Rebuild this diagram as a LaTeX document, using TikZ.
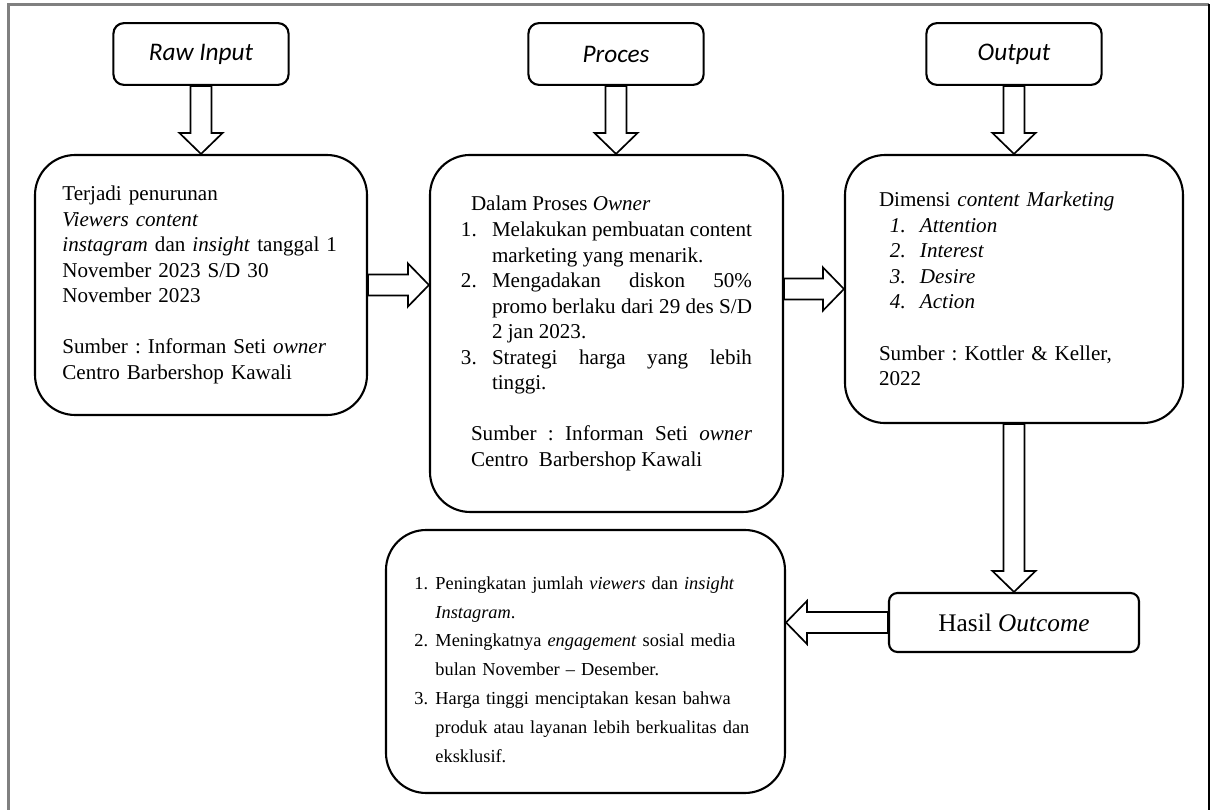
\documentclass[tikz,border=0pt]{standalone}
\usepackage{fontspec}
\setmainfont{Liberation Serif}
\newfontfamily\carlito{Carlito}
\usepackage{enumitem}
\setlist{nosep}
\usetikzlibrary{calc,positioning}
\hyphenpenalty=10000
\tolerance=9999
\frenchspacing

\begin{document}
\begin{tikzpicture}[
    head/.style={draw,rounded corners=5pt,line width=1pt,minimum width=2.92cm,
                 minimum height=1.03cm,font=\carlito\itshape\fontsize{12}{14}\selectfont},
    panel/.style={draw,rounded corners=19pt,line width=1pt,align=left,
                  font=\fontsize{10}{12.1}\selectfont},
    hollow/.style={draw,line width=0.8pt,line join=miter,
      to path={($(\tikztostart)!0.175cm!90:(\tikztotarget)$)
        -- ($(\tikztotarget)!0.35cm!(\tikztostart)!0.175cm!90:(\tikztotarget)$)
        -- ($(\tikztotarget)!0.35cm!(\tikztostart)!0.36cm!90:(\tikztotarget)$)
        -- (\tikztotarget)
        -- ($(\tikztotarget)!0.35cm!(\tikztostart)!0.36cm!-90:(\tikztotarget)$)
        -- ($(\tikztotarget)!0.35cm!(\tikztostart)!0.175cm!-90:(\tikztotarget)$)
        -- ($(\tikztostart)!0.175cm!-90:(\tikztotarget)$) -- cycle}},
]
\useasboundingbox (0,0) rectangle (20.25,13.5);

% page frame
\draw[black!50,line width=1pt] (0.142,0) -- (0.142,13.425) -- (20.15,13.425);
\draw[line width=1pt] (20.15,13.425) -- (20.15,0);

% headings
\node[head] (raw)  at (3.35,12.6)   {Raw Input};
\node[head] (proc) at (10.267,12.6) {Proces};
\node[head] (out)  at (16.9,12.6)   {Output};

% raw input panel
\node[panel,minimum width=5.533cm,minimum height=4.333cm,text width=4.62cm]
  (inp) at (3.35,8.75)
  {Terjadi penurunan\\
   \textit{Viewers content}\\
   \textit{instagram} dan \textit{insight} tanggal 1\\
   November 2023 S/D 30\\
   November 2023\\[12.1pt]
   Sumber : Informan Seti \textit{owner}\\
   Centro Barbershop Kawali};

% process panel
\node[panel,align=justify,minimum width=5.883cm,minimum height=5.95cm,text width=4.85cm]
  (procbox) at (10.108,7.942)
  {{\leftskip=0.167cm Dalam Proses \textit{Owner}\par}
   \begin{enumerate}[label=\arabic*.,leftmargin=0.517cm,labelwidth=0.517cm,
                     labelsep=0pt,labelindent=0pt,align=left]
   \item Melakukan pembuatan content marketing yang menarik.
   \item Mengadakan diskon 50\% promo berlaku dari 29 des S/D 2 jan 2023.
   \item Strategi harga yang lebih tinggi.
   \end{enumerate}
   \vspace{12.1pt}
   {\leftskip=0.167cm Sumber : Informan Seti \textit{owner} Centro\ \ Barbershop Kawali\par}};

% output panel
\node[panel,minimum width=5.633cm,minimum height=4.467cm,text width=4.5cm]
  (outbox) at (16.9,8.683)
  {Dimensi \textit{content Marketing}\par
   \begin{enumerate}[label=\textit{\arabic*.},leftmargin=0.683cm,labelwidth=0.5cm,
                     labelsep=0pt,labelindent=0.183cm,align=left]
   \item \textit{Attention}
   \item \textit{Interest}
   \item \textit{Desire}
   \item \textit{Action}
   \end{enumerate}
   \vspace{12.1pt}
   Sumber : Kottler \& Keller,\\
   2022};

% outcome
\node[draw,rounded corners=4pt,line width=1pt,minimum width=4.167cm,
      minimum height=0.983cm,font=\fontsize{12}{14}\selectfont]
  (hasil) at (16.9,3.125) {Hasil \textit{Outcome}};

\node[panel,minimum width=6.65cm,minimum height=4.383cm,text width=5.7cm,
      font=\fontsize{8.7}{13.7}\selectfont]
  (result) at (9.758,2.475)
  {\begin{enumerate}[label=\arabic*.,leftmargin=0.35cm,labelwidth=0.35cm,
                     labelsep=0pt,labelindent=0pt,align=left]
   \item Peningkatan jumlah \textit{viewers} dan \textit{insight} \textit{Instagram}.
   \item Meningkatnya \textit{engagement} sosial media bulan November -- Desember.
   \item Harga tinggi menciptakan kesan bahwa produk atau layanan lebih berkualitas dan eksklusif.
   \end{enumerate}};

% block arrows
\coordinate (ptop) at (proc.south |- procbox.north);
\coordinate (m1) at (inp.east -| procbox.west);
\coordinate (m2) at (outbox.west -| procbox.east);
\coordinate (m3) at (hasil.west -| result.east);

\draw[hollow] (raw.south) to (inp.north);
\draw[hollow] (proc.south) to (ptop);
\draw[hollow] (out.south) to (outbox.north);
\draw[hollow] (inp.east) to (m1);
\draw[hollow] (m2) to (outbox.west);
\draw[hollow] (outbox.south) to (hasil.north);
\draw[hollow] (hasil.west) to (m3);

\end{tikzpicture}
\end{document}
